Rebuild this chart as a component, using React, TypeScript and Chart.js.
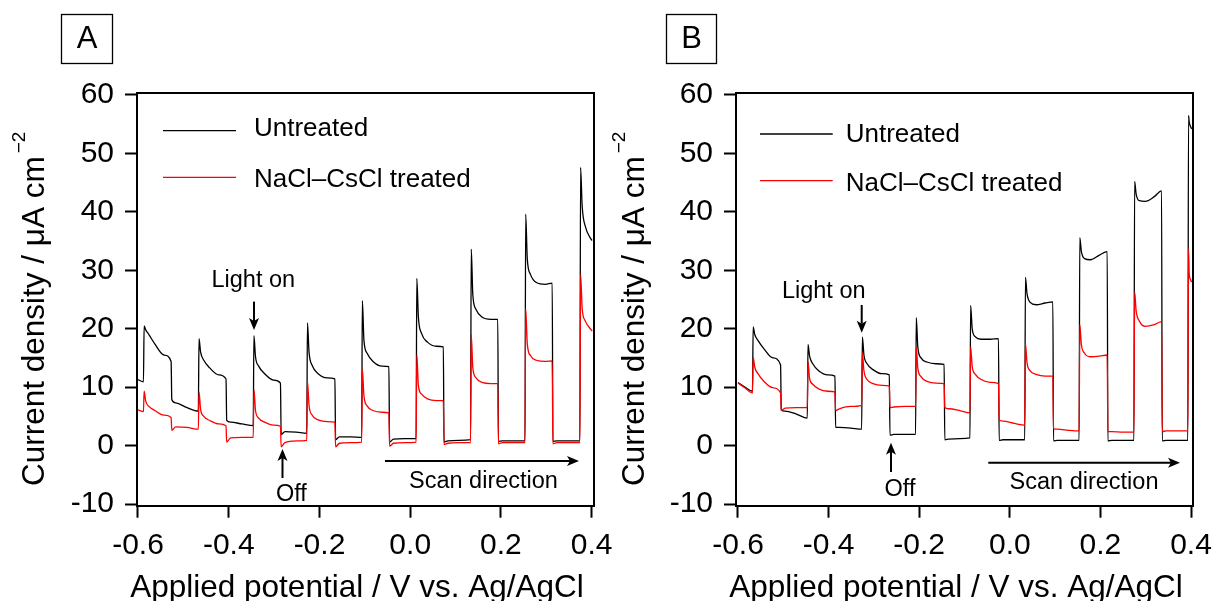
import React, { useEffect, useRef } from "react";
import { Chart, registerables } from "chart.js";

Chart.register(...registerables);

const FONT = "'Liberation Sans', Arial, Helvetica, sans-serif";

// ---------- data ----------
const seriesLabels = ["Untreated", "NaCl\u2013CsCl treated"];
const seriesColors = ["#000000", "#ff0000"];

const xTickValues = [-0.6, -0.4, -0.2, 0.0, 0.2, 0.4];
const xTickLabels = ["-0.6", "-0.4", "-0.2", "0.0", "0.2", "0.4"];
const yTickValues = [-10, 0, 10, 20, 30, 40, 50, 60];
const yTickLabels = ["-10", "0", "10", "20", "30", "40", "50", "60"];

const xAxisTitle = "Applied potential / V vs. Ag/AgCl";
const yAxisTitle = "Current density / \u03bcA cm";
const yAxisTitleSup = "\u22122";

// Panel A (potential in V, current density in uA cm^-2)
const potentialA = [
  -0.600,
  -0.588, -0.5865, -0.583, -0.576, -0.563, -0.543, -0.527, -0.5255, -0.517, -0.492,
  -0.467, -0.4655, -0.462, -0.455, -0.442, -0.422, -0.406, -0.4045, -0.396, -0.371,
  -0.346, -0.3445, -0.341, -0.334, -0.321, -0.301, -0.286, -0.2845, -0.276, -0.251,
  -0.228, -0.2265, -0.223, -0.216, -0.203, -0.183, -0.166, -0.1645, -0.156, -0.131,
  -0.107, -0.1055, -0.102, -0.095, -0.082, -0.062, -0.047, -0.0455, -0.037, -0.012,
  0.013, 0.0145, 0.018, 0.025, 0.038, 0.058, 0.073, 0.0745, 0.083, 0.108,
  0.133, 0.1345, 0.138, 0.145, 0.158, 0.178, 0.193, 0.1945, 0.203, 0.228,
  0.253, 0.2545, 0.258, 0.265, 0.278, 0.298, 0.313, 0.3145, 0.323, 0.348,
  0.374, 0.3755, 0.379, 0.386, 0.399, 0.401,
];
const untreatedA = [
  11.3,
  10.9, 20.5, 19.8, 19.0, 17.4, 15.5, 14.4, 7.9, 7.3, 6.5,
  5.9, 18.3, 16.0, 14.6, 13.3, 12.1, 11.4, 4.3, 4.0, 3.7,
  3.4, 18.8, 15.2, 13.6, 12.3, 11.2, 10.7, 1.9, 2.4, 2.3,
  2.1, 21.0, 16.0, 13.7, 12.3, 11.6, 11.4, 1.0, 1.5, 1.5,
  1.4, 24.8, 18.0, 15.8, 14.4, 13.6, 13.5, 0.6, 1.1, 1.2,
  1.2, 28.6, 22.0, 19.2, 17.7, 17.0, 16.9, 0.6, 0.8, 0.9,
  1.0, 33.6, 25.8, 23.3, 22.0, 21.6, 21.6, 0.7, 0.8, 0.8,
  0.8, 39.6, 32.0, 29.3, 27.9, 27.6, 27.8, 0.7, 0.8, 0.8,
  0.8, 47.6, 41.0, 37.5, 35.3, 35.1,
];
const treatedA = [
  6.1,
  5.8, 9.3, 7.6, 6.7, 6.0, 5.2, 4.8, 2.6, 3.2, 3.1,
  2.8, 9.2, 6.2, 5.0, 4.3, 3.7, 3.4, 0.6, 1.3, 1.4,
  1.4, 9.6, 6.0, 4.7, 4.0, 3.5, 3.3, -0.2, 0.5, 0.8,
  0.9, 11.0, 6.9, 5.2, 4.4, 4.1, 4.0, -0.2, 0.4, 0.5,
  0.6, 13.1, 8.5, 6.8, 6.0, 5.7, 5.6, -0.1, 0.4, 0.5,
  0.6, 15.5, 10.3, 8.8, 8.0, 7.7, 7.7, 0.2, 0.4, 0.5,
  0.5, 19.0, 13.3, 11.6, 10.8, 10.6, 10.6, 0.3, 0.5, 0.5,
  0.5, 23.4, 17.5, 15.4, 14.6, 14.4, 14.5, 0.3, 0.5, 0.5,
  0.5, 29.3, 23.5, 21.3, 19.8, 19.6,
];

// Panel B
const potentialB = [
  -0.600, -0.585,
  -0.568, -0.5665, -0.563, -0.556, -0.543, -0.523, -0.506, -0.5045, -0.496, -0.471,
  -0.447, -0.4455, -0.442, -0.435, -0.422, -0.402, -0.386, -0.3845, -0.376, -0.351,
  -0.327, -0.3255, -0.322, -0.315, -0.302, -0.282, -0.266, -0.2645, -0.256, -0.231,
  -0.208, -0.2065, -0.203, -0.196, -0.183, -0.163, -0.145, -0.1435, -0.135, -0.110,
  -0.088, -0.0865, -0.083, -0.076, -0.063, -0.043, -0.025, -0.0235, -0.015, 0.010,
  0.033, 0.0345, 0.038, 0.045, 0.058, 0.078, 0.095, 0.0965, 0.105, 0.130,
  0.153, 0.1545, 0.158, 0.165, 0.178, 0.198, 0.215, 0.2165, 0.225, 0.250,
  0.274, 0.2755, 0.279, 0.286, 0.299, 0.319, 0.335, 0.3365, 0.345, 0.370,
  0.393, 0.3945, 0.396, 0.399, 0.4015,
];
const untreatedB = [
  10.8, 10.0,
  9.3, 20.3, 19.0, 18.0, 16.6, 15.0, 13.8, 6.1, 5.9, 5.4,
  4.7, 17.3, 15.3, 14.0, 12.8, 12.1, 11.9, 3.1, 3.1, 3.0,
  2.8, 18.6, 15.5, 14.0, 13.0, 12.3, 12.1, 1.8, 1.9, 1.9,
  1.9, 21.9, 16.8, 15.0, 14.3, 14.0, 13.9, 1.0, 1.1, 1.2,
  1.3, 24.0, 20.0, 18.6, 18.2, 18.2, 18.3, 0.9, 1.0, 1.0,
  1.0, 28.8, 26.0, 24.5, 24.1, 24.4, 24.6, 0.8, 0.9, 0.9,
  0.9, 35.6, 33.2, 32.0, 31.8, 32.6, 33.2, 0.8, 0.9, 0.9,
  0.9, 45.2, 43.0, 41.9, 41.8, 42.6, 43.6, 0.8, 0.9, 0.9,
  0.9, 56.5, 55.4, 54.6, 54.2,
];
const treatedB = [
  10.7, 9.9,
  9.0, 15.1, 13.4, 12.3, 11.0, 9.9, 9.0, 6.0, 6.4, 6.5,
  6.5, 14.4, 11.5, 10.5, 9.7, 9.3, 9.2, 6.0, 6.3, 6.7,
  6.9, 15.9, 12.8, 11.3, 10.6, 10.3, 10.2, 6.5, 6.6, 6.7,
  6.7, 16.7, 13.2, 11.8, 11.0, 10.7, 10.6, 6.5, 6.3, 6.0,
  5.6, 16.9, 13.5, 12.2, 11.3, 10.8, 10.6, 4.4, 4.2, 3.8,
  3.5, 17.5, 14.2, 12.8, 12.2, 11.9, 11.9, 2.9, 2.8, 2.6,
  2.5, 20.7, 17.3, 15.8, 15.2, 15.3, 15.5, 2.4, 2.4, 2.3,
  2.3, 26.3, 23.0, 21.3, 20.4, 20.7, 21.2, 2.4, 2.5, 2.5,
  2.5, 33.7, 29.5, 28.4, 28.0,
];

// ---------- layout / annotation specs ----------
type Spec = {
  name: string;
  left: number;
  potential: number[];
  untreated: number[];
  treated: number[];
  xMin: number;
  xMax: number;
  yMin: number;
  yMax: number;
  yAxisWidth: number;
  padRight: number;
  box: { x: number; y: number; w: number; h: number };
  legend: { x1: number; x2: number; tx: number; rows: { ly: number; ty: number }[] };
  lightOn: { tx: number; ty: number; ax: number; ay1: number; ay2: number };
  off: { tx: number; ty: number; ax: number; ay1: number; ay2: number };
  scan: { x1: number; x2: number; y: number; tx: number; ty: number };
};

const specs: Spec[] = [
  {
    name: "A",
    left: 0,
    potential: potentialA,
    untreated: untreatedA,
    treated: treatedA,
    xMin: -0.6022,
    xMax: 0.4051,
    yMin: -10.29,
    yMax: 60.34,
    yAxisWidth: 137,
    padRight: 21,
    box: { x: 61, y: 14, w: 51, h: 49 },
    legend: { x1: 26, x2: 99, tx: 117, rows: [{ ly: 37.7, ty: 43 }, { ly: 84.3, ty: 93.7 }] },
    lightOn: { tx: -0.3459, ty: 27.09, ax: -0.3443, ay1: 24.63, ay2: 19.78 },
    off: { tx: -0.2619, ty: -9.48, ax: -0.2815, ay1: -5.55, ay2: -0.58 },
    scan: { x1: -0.0556, x2: 0.372, y: -2.64, tx: 0.1615, ty: -7.34 },
  },
  {
    name: "B",
    left: 600,
    potential: potentialB,
    untreated: untreatedB,
    treated: treatedB,
    xMin: -0.6044,
    xMax: 0.4044,
    yMin: -10.29,
    yMax: 60.34,
    yAxisWidth: 136,
    padRight: 22,
    box: { x: 66, y: 14, w: 50, h: 49 },
    legend: { x1: 24, x2: 96.7, tx: 109.7, rows: [{ ly: 41, ty: 48.7 }, { ly: 87.7, ty: 97.7 }] },
    lightOn: { tx: -0.4108, ty: 25.21, ax: -0.3269, ay1: 24.06, ay2: 19.32 },
    off: { tx: -0.2424, ty: -8.63, ax: -0.2623, ay1: -4.52, ay2: 0.5 },
    scan: { x1: -0.0475, x2: 0.3757, y: -2.93, tx: 0.1638, ty: -7.51 },
  },
];

function drawArrow(ctx: CanvasRenderingContext2D, x1: number, y1: number, x2: number, y2: number) {
  const len = 12;
  const half = 5;
  const a = Math.atan2(y2 - y1, x2 - x1);
  const c = Math.cos(a);
  const s = Math.sin(a);
  const bx = x2 - len * c;
  const by = y2 - len * s;
  ctx.lineWidth = 2;
  ctx.beginPath();
  ctx.moveTo(x1, y1);
  ctx.lineTo(bx + 3 * c, by + 3 * s);
  ctx.stroke();
  ctx.beginPath();
  ctx.moveTo(x2, y2);
  ctx.lineTo(bx + half * s, by - half * c);
  ctx.lineTo(bx + 3 * c, by + 3 * s);
  ctx.lineTo(bx - half * s, by + half * c);
  ctx.closePath();
  ctx.fill();
}

function overlayPlugin(spec: Spec) {
  return {
    id: "overlay" + spec.name,
    afterDraw(chart: any) {
      const ctx: CanvasRenderingContext2D = chart.ctx;
      const ca = chart.chartArea;
      const sx = (v: number) => chart.scales.x.getPixelForValue(v);
      const sy = (v: number) => chart.scales.y.getPixelForValue(v);
      ctx.save();
      ctx.strokeStyle = "#000";
      ctx.fillStyle = "#000";

      // frame: top and right edges
      ctx.lineWidth = 2;
      ctx.lineJoin = "miter";
      ctx.beginPath();
      ctx.moveTo(Math.round(ca.left) - 1, Math.round(ca.top));
      ctx.lineTo(Math.round(ca.right), Math.round(ca.top));
      ctx.lineTo(Math.round(ca.right), Math.round(ca.bottom) + 1);
      ctx.stroke();

      // panel label
      ctx.lineWidth = 1.3;
      ctx.strokeRect(spec.box.x + 0.5, spec.box.y + 0.5, spec.box.w, spec.box.h);
      ctx.font = `31px ${FONT}`;
      ctx.textAlign = "center";
      ctx.textBaseline = "middle";
      ctx.fillText(spec.name, spec.box.x + spec.box.w / 2 + 0.5, spec.box.y + spec.box.h / 2 + 1);

      // legend
      ctx.font = `26px ${FONT}`;
      ctx.textAlign = "left";
      ctx.textBaseline = "alphabetic";
      chart.data.datasets.forEach((ds: any, i: number) => {
        const row = spec.legend.rows[i];
        ctx.strokeStyle = ds.borderColor;
        ctx.lineWidth = 1.3;
        ctx.beginPath();
        ctx.moveTo(ca.left + spec.legend.x1, ca.top + row.ly);
        ctx.lineTo(ca.left + spec.legend.x2, ca.top + row.ly);
        ctx.stroke();
        ctx.fillStyle = "#000";
        ctx.fillText(ds.label, ca.left + spec.legend.tx, ca.top + row.ty);
      });
      ctx.strokeStyle = "#000";
      ctx.fillStyle = "#000";

      // annotations
      ctx.font = `23.5px ${FONT}`;
      ctx.textAlign = "center";
      ctx.textBaseline = "alphabetic";
      ctx.fillText("Light on", sx(spec.lightOn.tx), sy(spec.lightOn.ty));
      drawArrow(ctx, sx(spec.lightOn.ax), sy(spec.lightOn.ay1), sx(spec.lightOn.ax), sy(spec.lightOn.ay2));
      ctx.fillText("Off", sx(spec.off.tx), sy(spec.off.ty));
      drawArrow(ctx, sx(spec.off.ax), sy(spec.off.ay1), sx(spec.off.ax), sy(spec.off.ay2));
      ctx.fillText("Scan direction", sx(spec.scan.tx), sy(spec.scan.ty));
      drawArrow(ctx, sx(spec.scan.x1), sy(spec.scan.y), sx(spec.scan.x2), sy(spec.scan.y));

      // x-axis title
      ctx.font = `31.5px ${FONT}`;
      ctx.textAlign = "center";
      ctx.fillText(xAxisTitle, ca.left + 220, 597);

      // y-axis title with superscript
      ctx.save();
      ctx.translate(44, 486);
      ctx.rotate(-Math.PI / 2);
      ctx.textAlign = "left";
      ctx.font = `31.5px ${FONT}`;
      ctx.fillText(yAxisTitle, 0, 0);
      const w = ctx.measureText(yAxisTitle).width;
      ctx.font = `19px ${FONT}`;
      ctx.fillText(yAxisTitleSup, w + 3, -19);
      ctx.restore();

      ctx.restore();
    },
  };
}

function Panel({ spec }: { spec: Spec }) {
  const ref = useRef<HTMLCanvasElement>(null);
  useEffect(() => {
    if (!ref.current) return;
    Chart.defaults.font.family = FONT;
    const mk = (vals: number[]) => spec.potential.map((x, i) => ({ x, y: vals[i] }));
    const lineStyle = {
      borderWidth: 1.3,
      pointRadius: 0,
      cubicInterpolationMode: "monotone",
      fill: false,
    };
    const chart = new Chart(ref.current, {
      type: "line",
      data: {
        datasets: [
          {
            label: seriesLabels[0],
            data: mk(spec.untreated),
            borderColor: seriesColors[0],
            backgroundColor: seriesColors[0],
            order: 1,
            ...lineStyle,
          },
          {
            label: seriesLabels[1],
            data: mk(spec.treated),
            borderColor: seriesColors[1],
            backgroundColor: seriesColors[1],
            order: 0,
            ...lineStyle,
          },
        ],
      },
      options: {
        animation: false,
        responsive: false,
        events: [],
        layout: { padding: { top: 93, right: spec.padRight, bottom: 0, left: 0 } },
        plugins: {
          legend: { display: false },
          tooltip: { enabled: false },
        },
        scales: {
          x: {
            type: "linear",
            min: spec.xMin,
            max: spec.xMax,
            afterBuildTicks: (s: any) => {
              s.ticks = xTickValues.map((v) => ({ value: v }));
            },
            afterFit: (s: any) => {
              s.height = 95.3;
              s.paddingLeft = 0;
              s.paddingRight = 0;
            },
            ticks: {
              color: "#000",
              font: { family: FONT, size: 30 },
              padding: 10,
              maxRotation: 0,
              autoSkip: false,
              callback: (_v: any, i: number) => xTickLabels[i],
            },
            grid: {
              drawOnChartArea: false,
              drawTicks: true,
              tickLength: 12,
              tickWidth: 2,
              tickColor: "#000",
              color: "#000",
            },
            border: { display: true, color: "#000", width: 2 },
            title: { display: false },
          },
          y: {
            type: "linear",
            min: spec.yMin,
            max: spec.yMax,
            afterBuildTicks: (s: any) => {
              s.ticks = yTickValues.map((v) => ({ value: v }));
            },
            afterFit: (s: any) => {
              s.width = spec.yAxisWidth;
              s.paddingTop = 0;
              s.paddingBottom = 0;
            },
            ticks: {
              color: "#000",
              font: { family: FONT, size: 30 },
              padding: 11,
              autoSkip: false,
              callback: (_v: any, i: number) => yTickLabels[i],
            },
            grid: {
              drawOnChartArea: false,
              drawTicks: true,
              tickLength: 12,
              tickWidth: 2,
              tickColor: "#000",
              color: "#000",
            },
            border: { display: true, color: "#000", width: 2 },
            title: { display: false },
          },
        },
      },
      plugins: [overlayPlugin(spec)],
    } as any);
    return () => chart.destroy();
  }, [spec]);
  return (
    <div style={{ position: "absolute", left: spec.left, top: 0, width: 615, height: 601 }}>
      <canvas ref={ref} width={615} height={601} style={{ display: "block" }} />
    </div>
  );
}

export default function App() {
  return (
    <div>
      {specs.map((s) => (
        <Panel key={s.name} spec={s} />
      ))}
    </div>
  );
}
